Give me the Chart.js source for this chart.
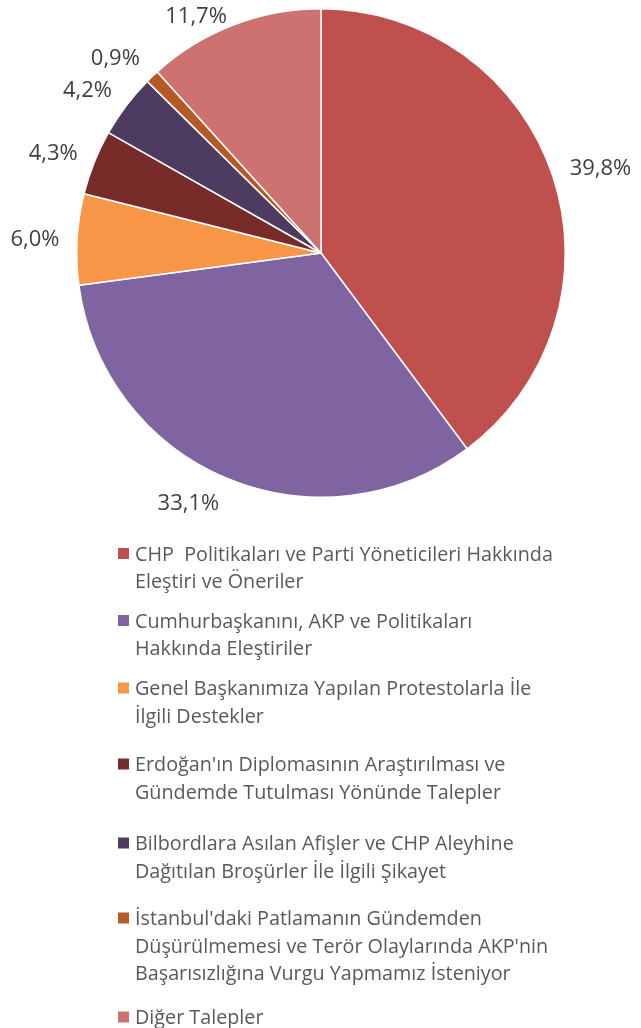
<!DOCTYPE html>
<html>
<head>
<meta charset="utf-8">
<script src="https://cdn.jsdelivr.net/npm/chart.js@4/dist/chart.umd.min.js"></script>
<style>
  html, body { margin: 0; padding: 0; background: #ffffff; }
  #wrap { width: 641px; height: 1028px; position: relative; }
  canvas { display: block; }
</style>
</head>
<body>
<div id="wrap"><canvas id="c" width="641" height="1028"></canvas></div>
<script>
// ---- data ----
const categories = [
  ["CHP  Politikaları ve Parti Yöneticileri Hakkında", "Eleştiri ve Öneriler"],
  ["Cumhurbaşkanını, AKP ve Politikaları", "Hakkında Eleştiriler"],
  ["Genel Başkanımıza Yapılan Protestolarla İle", "İlgili Destekler"],
  ["Erdoğan'ın Diplomasının Araştırılması ve", "Gündemde Tutulması Yönünde Talepler"],
  ["Bilbordlara Asılan Afişler ve CHP Aleyhine", "Dağıtılan Broşürler İle İlgili Şikayet"],
  ["İstanbul'daki Patlamanın Gündemden", "Düşürülmemesi ve Terör Olaylarında AKP'nin", "Başarısızlığına Vurgu Yapmamız İsteniyor"],
  ["Diğer Talepler"]
];
const shares = [39.8, 33.1, 6.0, 4.3, 4.2, 0.9, 11.7];
const shareLabels = ["39,8%", "33,1%", "6,0%", "4,3%", "4,2%", "0,9%", "11,7%"];
const sliceColors = ["#C0504D", "#8064A2", "#F79646", "#772C2A", "#4D3B62", "#B65A25", "#CD7270"];

// ---- layout / style constants ----
const FONT = "'Open Sans', 'Liberation Sans', sans-serif";
const LABEL_SIZE = 22;
const LEGEND_SIZE = 19.75;
const legendRowY = [553.5, 620.5, 688, 764, 843, 918, 1017];
const LEGEND_LINE = 27.5;

const clamp = (v) => Math.max(-1, Math.min(1, v));

const sliceLabels = {
  id: 'sliceLabels',
  afterDatasetsDraw(chart) {
    const ctx = chart.ctx;
    const meta = chart.getDatasetMeta(0);
    ctx.save();
    ctx.font = LABEL_SIZE + 'px ' + FONT;
    ctx.fillStyle = '#404040';
    ctx.textAlign = 'center';
    ctx.textBaseline = 'alphabetic';
    const h = LABEL_SIZE * 0.714;
    meta.data.forEach((arc, i) => {
      const p = arc.getProps(['x', 'y', 'startAngle', 'endAngle', 'outerRadius'], true);
      const mid = (p.startAngle + p.endAngle) / 2;
      const cos = Math.cos(mid), sin = Math.sin(mid);
      const R = p.outerRadius + 17.75;
      const text = shareLabels[i];
      const w = ctx.measureText(text).width;
      const cx = p.x + R * cos + (w / 2) * clamp(cos * 3);
      let cy = p.y + R * sin + (h / 2) * clamp(sin * 1.2);
      if (cy - h / 2 < 7) cy = 7 + h / 2;
      ctx.fillText(text, cx, cy + h / 2);
    });
    ctx.restore();
  }
};

const customLegend = {
  id: 'customLegend',
  afterDraw(chart) {
    const ctx = chart.ctx;
    const labels = chart.data.labels;
    const colors = chart.data.datasets[0].backgroundColor;
    ctx.save();
    ctx.font = LEGEND_SIZE + 'px ' + FONT;
    ctx.textAlign = 'left';
    ctx.textBaseline = 'alphabetic';
    const cap = LEGEND_SIZE * 0.714;
    labels.forEach((lines, i) => {
      const y0 = legendRowY[i];
      ctx.fillStyle = colors[i];
      ctx.fillRect(118, y0 - 5.5, 11, 11);
      ctx.fillStyle = '#595959';
      lines.forEach((line, j) => {
        ctx.fillText(line, 135, y0 + j * LEGEND_LINE + cap / 2);
      });
    });
    ctx.restore();
  }
};

new Chart(document.getElementById('c'), {
  type: 'pie',
  data: {
    labels: categories,
    datasets: [{
      data: shares,
      backgroundColor: sliceColors,
      borderColor: '#ffffff',
      borderWidth: 1.5
    }]
  },
  options: {
    responsive: false,
    animation: false,
    layout: { padding: { top: 8, bottom: 530, left: 76, right: 75 } },
    plugins: {
      legend: { display: false },
      tooltip: { enabled: false }
    }
  },
  plugins: [sliceLabels, customLegend]
});
</script>
</body>
</html>
